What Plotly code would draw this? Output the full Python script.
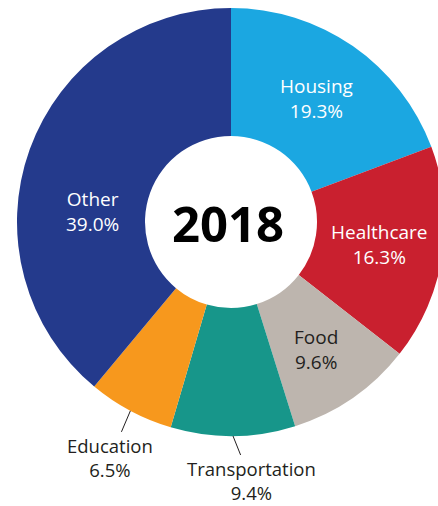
import math
import plotly.graph_objects as go

categories = ["Housing", "Healthcare", "Food", "Transportation", "Education", "Other"]
values = [19.3, 16.3, 9.6, 9.4, 6.5, 39.0]
colors = ["#1ba7e1", "#c9202f", "#bdb5ae", "#17968a", "#f7981d", "#243a8c"]
center_label = "2018"
inside = ["Housing", "Healthcare"]

W, H = 446, 506
CX, CY, R = 231, 222, 214
HOLE_R = 86

text_colors = ["#ffffff", "#ffffff", "#231f20", "#231f20", "#231f20", "#ffffff"]
positions = ["inside" if c in inside else "none" for c in categories]
texts = [f"{c}<br>{v:.1f}%" for c, v in zip(categories, values)]

FONT = "Open Sans"

fig = go.Figure(go.Pie(
    labels=categories,
    values=values,
    sort=False,
    direction="clockwise",
    rotation=0,
    hole=HOLE_R / R,
    marker=dict(colors=colors, line=dict(width=0)),
    text=texts,
    textinfo="text",
    textposition=positions,
    insidetextorientation="horizontal",
    insidetextfont=dict(family=FONT, size=19, color=text_colors),
    showlegend=False,
    domain=dict(x=[(CX - R) / W, (CX + R) / W], y=[1 - (CY + R) / H, 1 - (CY - R) / H]),
))

# labels placed in slices (annotations) and outside labels with leader lines
in_slice_pos = {"Other": (92, 211), "Food": (316, 349)}
total = sum(values)
cum = 0.0
offsets = {"Education": (-20, 47), "Transportation": (18, 45)}
for c, v, tc in zip(categories, values, text_colors):
    mid = (cum + v / 2) / total * 2 * math.pi
    cum += v
    if c in inside:
        continue
    if c in in_slice_pos:
        px, py = in_slice_pos[c]
        fig.add_annotation(
            x=px / W, y=1 - py / H, xref="paper", yref="paper",
            xanchor="center", yanchor="middle",
            text=f"{c}<br>{v:.1f}%", showarrow=False,
            font=dict(family=FONT, size=19, color=tc),
        )
        continue
    tx = CX + R * math.sin(mid)
    ty = CY - R * math.cos(mid)
    ax, ay = offsets[c]
    fig.add_annotation(
        x=tx / W, y=1 - ty / H, xref="paper", yref="paper",
        text=f"{c}<br>{v:.1f}%", showarrow=True, arrowhead=0, arrowwidth=1,
        arrowcolor="#231f20", ax=ax, ay=ay, standoff=0,
        font=dict(family=FONT, size=18.5, color=tc),
    )

fig.add_annotation(
    x=228 / W, y=1 - 223 / H, xref="paper", yref="paper",
    xanchor="center", yanchor="middle",
    text=f"<b>{center_label}</b>", showarrow=False,
    font=dict(family=FONT, size=49, color="#000000"),
)

fig.update_layout(
    width=W, height=H,
    margin=dict(l=0, r=0, t=0, b=0),
    paper_bgcolor="#ffffff",
    plot_bgcolor="#ffffff",
)

fig.write_html(
    "out.html",
    config={"displayModeBar": False},
    post_script="document.body.style.margin='0';document.body.style.overflow='hidden';document.documentElement.style.overflow='hidden';",
)
